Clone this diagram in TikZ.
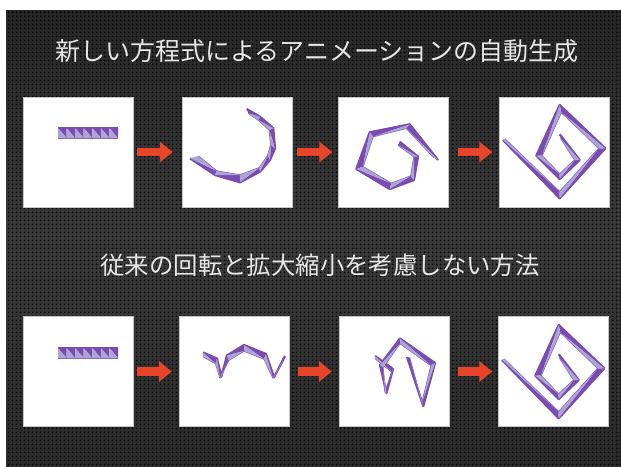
\documentclass[tikz,border=0pt]{standalone}
\usepackage{fontspec}
\newfontfamily\cjk{Noto Sans CJK JP}
\usetikzlibrary{arrows.meta,patterns.meta}
\definecolor{rpurple}{HTML}{7A4BB0}
\definecolor{rlav}{HTML}{ABA4D4}
\definecolor{arrowred}{HTML}{E8442A}
\definecolor{bgtop}{HTML}{262626}
\definecolor{bgmid}{HTML}{3A3A3A}
\definecolor{bgbot}{HTML}{2A2A2A}
\definecolor{titlegray}{HTML}{E6E6E6}

\tikzdeclarepattern{
  name=holes,
  type=uncolored,
  bounding box={(0pt,0pt) and (3.6pt,3.6pt)},
  tile size={(3.6pt,3.6pt)},
  code={\fill (1.8pt,1.8pt) circle [radius=1.1pt];}
}

\newcommand\ribbonchain[2]{%
  \foreach \ox/\oy/\ix/\iy [count=\k] in {#2}{%
    \coordinate (#1o\k) at (\ox,\oy);
    \coordinate (#1i\k) at (\ix,\iy);
    \xdef\ribN{\k}}%
  \draw[rpurple, line width=2.2pt, line join=round] (#1o1) \foreach \k in {2,...,\ribN}{ -- (#1o\k)};
  \draw[rpurple!75!rlav, line width=1.2pt, line join=round] (#1i1) \foreach \k in {2,...,\ribN}{ -- (#1i\k)};
  \foreach \k [evaluate=\k as \j using int(\k-1)] in {2,...,\ribN}{%
    \fill[rpurple] (#1o\j) -- (#1o\k) -- (#1i\k) -- cycle;
    \fill[rlav] (#1o\j) -- (#1i\j) -- (#1i\k) -- cycle;}%
}

\begin{document}
\begin{tikzpicture}[x=1pt,y=-1pt,
  panel/.style={draw=gray!45, line width=0.4pt, fill=white, minimum width=110pt, minimum height=110pt, inner sep=0pt},
  flow/.style={draw=arrowred, line width=8.5pt, -{Triangle[width=20pt,length=13pt]}},
  headline/.style={text=titlegray, inner sep=0pt}]
\useasboundingbox (0,0) rectangle (621,466);
\fill[white] (0,0) rectangle (621,466);
\shade[top color=bgtop, bottom color=bgbot, middle color=bgmid] (6,10) rectangle (621,466);
\fill[pattern=holes, pattern color=black] (6,10) rectangle (621,466);

% titles
\node[headline] (h1) at (317,51) {\cjk\fontsize{25}{25}\selectfont 新しい方程式によるアニメーションの自動生成};
\node[headline] (h2) at (320,265) {\cjk\fontsize{24.4}{24.4}\selectfont 従来の回転と拡大縮小を考慮しない方法};

% panels
\node[panel] (t1) at (78,152) {};
\node[panel] (t2) at (237,152) {};
\node[panel] (t3) at (393.5,152) {};
\node[panel] (t4) at (554.5,152) {};
\node[panel] (b1) at (78,371.5) {};
\node[panel] (b2) at (234,371.5) {};
\node[panel] (b3) at (394,371.5) {};
\node[panel] (b4) at (553.5,371.5) {};

% arrows
\draw[flow, shorten <=4pt, shorten >=9pt] (t1) -- (t2);
\draw[flow, shorten <=5pt, shorten >=6pt] (t2) -- (t3);
\draw[flow, shorten <=9pt, shorten >=7pt] (t3) -- (t4);
\draw[flow, shorten <=4pt, shorten >=7pt] (b1) -- (b2);
\draw[flow, shorten <=9pt, shorten >=7pt] (b2) -- (b3);
\draw[flow, shorten <=9pt, shorten >=6pt] (b3) -- (b4);

% ribbons, top row
\ribbonchain{aa}{58/128/58/138, 66.6/128/66.6/138, 75.1/128/75.1/138, 83.7/128/83.7/138, 92.3/128/92.3/138, 100.9/128/100.9/138, 109.4/128/109.4/138, 118/128/118/138}
\ribbonchain{ab}{190/158.3/198.3/156, 215/175/216.7/171, 240/182.3/240/175, 260/171.7/259.3/167.7, 270/160/267.7/155.7, 275/148.3/270.7/145, 273.3/128.3/269.3/130, 260/116.7/258.3/120, 246.7/109/248.3/113.3}
\ribbonchain{ac}{438/160/434/157.7, 409.7/124.3/406.3/128.3, 369.7/132.3/373/136.7, 356.3/169/363/166.7, 389.7/189/391.3/183.3, 414/180/410.7/176, 418/156.7/414/156.7, 399.7/141.7/398/145}
\ribbonchain{ad}{503/140/505/139, 559.7/198.3/559.7/191.7, 605.3/148.3/598.7/148.3, 559.7/105/561.3/112.3, 536.3/155.7/542/155.7, 559.7/179/559.7/174, 579.7/160/574.7/160, 559.7/134.3/560.7/138.3}

% ribbons, bottom row
\begin{scope}[shift={(0,220)}]
\ribbonchain{ba}{58/128/58/138, 66.6/128/66.6/138, 75.1/128/75.1/138, 83.7/128/83.7/138, 92.3/128/92.3/138, 100.9/128/100.9/138, 109.4/128/109.4/138, 118/128/118/138}
\end{scope}
\ribbonchain{bb}{203/352.5/203/356.5, 217/358.5/215.5/363.5, 221.3/376.7/220/378, 227/355.5/228.5/360.5, 244/345/244/351, 266/354/264/359, 274/377.3/273/378, 285/356/283/361}
\ribbonchain{bc}{375/356/375/358.5, 393/369/392/372, 386.5/393/385/392, 380/365/383/367.5, 400/338.5/400/343.5, 435/363/431/365.5, 423.3/406/422/403, 407/357/409.5/357.5}
\begin{scope}[shift={(-1,220)}]
\ribbonchain{bd}{503/140/505/139, 559.7/198.3/559.7/191.7, 605.3/148.3/598.7/148.3, 559.7/105/561.3/112.3, 536.3/155.7/542/155.7, 559.7/179/559.7/174, 579.7/160/574.7/160, 559.7/134.3/560.7/138.3}
\end{scope}
\end{tikzpicture}
\end{document}
